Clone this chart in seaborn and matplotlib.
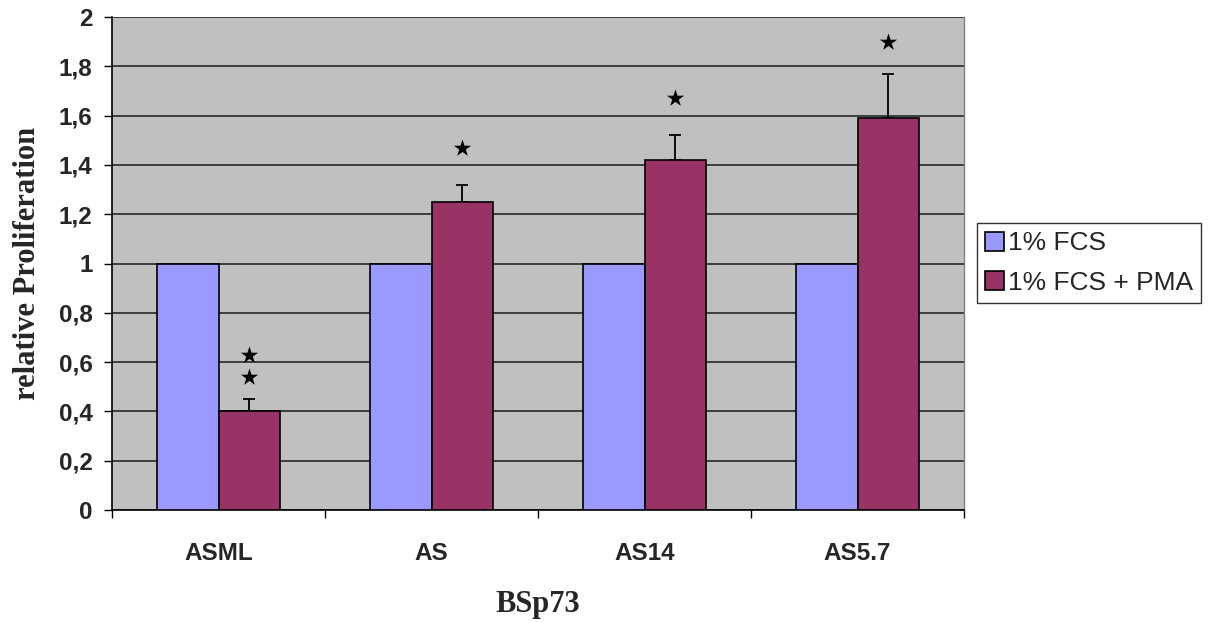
import numpy as np
import pandas as pd
import matplotlib
matplotlib.use("Agg")
import matplotlib.pyplot as plt
import seaborn as sns
from matplotlib.ticker import FixedLocator, NullFormatter, FixedFormatter
from matplotlib.patches import Patch

# Cell lines and treatment conditions
lines = ["ASML", "AS", "AS14", "AS5.7"]
conditions = ["1% FCS", "1% FCS + PMA"]

# Relative proliferation (control normalised to 1)
fcs_values = [1.0, 1.0, 1.0, 1.0]
pma_values = [0.40, 1.25, 1.42, 1.59]
pma_errors = [0.05, 0.07, 0.10, 0.18]

# Significance stars above the PMA bars (y positions)
star_y = [[0.54, 0.63], [1.47], [1.67], [1.90]]

y_ticks = [0, 0.2, 0.4, 0.6, 0.8, 1.0, 1.2, 1.4, 1.6, 1.8, 2.0]
y_tick_labels = ["0", "0,2", "0,4", "0,6", "0,8", "1", "1,2", "1,4", "1,6", "1,8", "2"]

colors = ["#9999FF", "#993366"]

df = pd.DataFrame({
    "line": lines * 2,
    "condition": [conditions[0]] * 4 + [conditions[1]] * 4,
    "value": fcs_values + pma_values,
})

sns.set_style("white")
plt.rcParams["font.family"] = ["Liberation Sans", "DejaVu Sans"]

fig = plt.figure(figsize=(12.09, 6.22), dpi=100)
ax = fig.add_axes([112 / 1209, 1 - 510 / 622, (964 - 112) / 1209, (510 - 17) / 622])
ax.set_facecolor("#C0C0C0")

bar_width = 0.573
sns.barplot(data=df, x="line", y="value", hue="condition", order=lines,
            hue_order=conditions, palette=colors, saturation=1,
            width=bar_width, gap=0, edgecolor="black", linewidth=1.2,
            errorbar=None, legend=False, ax=ax, zorder=3)

# Upper error bars on the PMA bars
x_pma = np.arange(len(lines)) + bar_width / 4
ax.errorbar(x_pma, pma_values, yerr=[np.zeros(len(lines)), pma_errors],
            fmt="none", ecolor="black", elinewidth=1.3, capsize=4,
            capthick=1.3, zorder=2)

# Significance stars
for xi, ys in zip(x_pma, star_y):
    ax.scatter([xi] * len(ys), ys, marker="*", s=170, color="black",
               linewidths=0, zorder=4)

ax.set_xlim(-0.5, len(lines) - 0.5)
ax.set_ylim(0, 2)
ax.set_yticks(y_ticks)
ax.set_yticklabels(y_tick_labels, fontsize=17.5, fontweight="bold")
ax.yaxis.grid(True, color="#1a1a1a", linewidth=1.1)
ax.set_axisbelow(True)

# Category boundaries carry the tick marks; labels sit at bar-group centres
ax.xaxis.set_major_locator(FixedLocator(np.arange(-0.5, len(lines), 1.0)))
ax.xaxis.set_major_formatter(NullFormatter())
ax.xaxis.set_minor_locator(FixedLocator(np.arange(len(lines))))
ax.xaxis.set_minor_formatter(FixedFormatter(lines))
ax.tick_params(axis="x", which="major", direction="out", length=6, width=1,
               color="black", bottom=True)
ax.tick_params(axis="x", which="minor", length=0, pad=23, labelsize=17.5,
               bottom=True)
for lbl in ax.get_xticklabels(minor=True):
    lbl.set_fontweight("bold")
ax.tick_params(axis="y", direction="out", length=6, width=1, color="black",
               pad=8, left=True)

ax.spines["top"].set_visible(False)
ax.spines["right"].set_color("#808080")
ax.spines["right"].set_linewidth(1)
for side in ["left", "bottom"]:
    ax.spines[side].set_color("black")
    ax.spines[side].set_linewidth(1.2)

ax.set_xlabel("BSp73", fontsize=22, fontweight="bold",
              family=["Liberation Serif", "DejaVu Serif"], labelpad=18)
ax.set_ylabel("relative Proliferation", fontsize=22, fontweight="bold",
              family=["Liberation Serif", "DejaVu Serif"], labelpad=12)

handles = [Patch(facecolor=c, edgecolor="black", linewidth=1.2) for c in colors]
leg = fig.legend(handles, conditions, loc="upper left",
                 bbox_to_anchor=(977 / 1209, 1 - 223 / 622), fontsize=19,
                 frameon=True, fancybox=False, edgecolor="black",
                 handlelength=0.72, handleheight=0.72, handletextpad=0.12,
                 borderpad=0.32, labelspacing=0.58, borderaxespad=0)
leg.get_frame().set_linewidth(1)

fig.savefig("out.png", dpi=100)
